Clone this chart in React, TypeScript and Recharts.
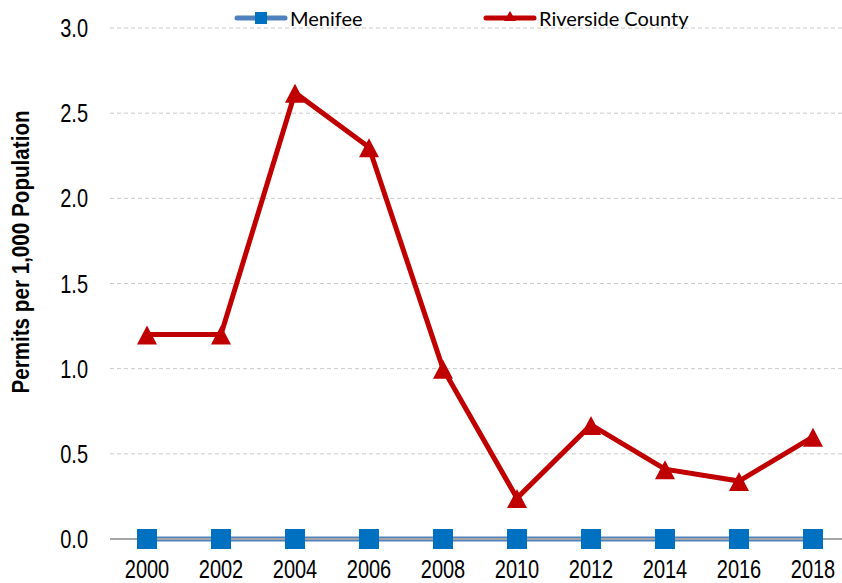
import React from 'react';
import { LineChart, Line, XAxis, YAxis, CartesianGrid } from 'recharts';

const years = ['2000', '2002', '2004', '2006', '2008', '2010', '2012', '2014', '2016', '2018'];
const menifee = [0, 0, 0, 0, 0, 0, 0, 0, 0, 0];
const riverside = [1.2, 1.2, 2.62, 2.3, 1.0, 0.24, 0.67, 0.41, 0.34, 0.6];
const yTicks = [0, 0.5, 1, 1.5, 2, 2.5, 3];

const data = years.map((year, i) => ({ year, menifee: menifee[i], riverside: riverside[i] }));

const BLUE_LINE = '#4f81bd';
const BLUE_MARK = '#0070c0';
const RED = '#c00000';
const FONT = '"Liberation Sans", Arial, sans-serif';

// narrow look: the reference uses a condensed face, so squeeze Liberation Sans
const XTick = (props: any) => {
  const { x, y, payload } = props;
  return (
    <g transform={`translate(${x},${y})`}>
      <text transform="scale(0.8,1)" textAnchor="middle" dy={39} fontFamily={FONT} fontSize={25} fill="#000">
        {payload.value}
      </text>
    </g>
  );
};

const YTick = (props: any) => {
  const { x, y, payload } = props;
  return (
    <g transform={`translate(${x},${y})`}>
      <text transform="scale(0.8,1)" textAnchor="end" dy={9} fontFamily={FONT} fontSize={25} fill="#000">
        {Number(payload.value).toFixed(1)}
      </text>
    </g>
  );
};

const Square = (props: any) => {
  const { cx, cy } = props;
  if (cx == null || cy == null) return null;
  return <rect x={cx - 10} y={cy - 10} width={20} height={20} fill={BLUE_MARK} />;
};

const Triangle = (props: any) => {
  const { cx, cy } = props;
  if (cx == null || cy == null) return null;
  return <polygon points={`${cx},${cy - 9} ${cx + 10},${cy + 10} ${cx - 10},${cy + 10}`} fill={RED} />;
};

const YTitle = () => (
  <g transform="translate(21,252) rotate(-90)">
    <text
      transform="scale(0.86,1)"
      textAnchor="middle"
      dominantBaseline="central"
      fontFamily={FONT}
      fontWeight="bold"
      fontSize={24}
      fill="#000"
    >
      Permits per 1,000 Population
    </text>
  </g>
);

const LegendItem = ({ left, color, markColor, shape, label }: any) => (
  <div style={{ position: 'absolute', left, top: 4, display: 'flex', alignItems: 'center' }}>
    <svg width={54} height={28}>
      <line x1={3} y1={14} x2={51} y2={14} stroke={color} strokeWidth={5} strokeLinecap="round" />
      {shape === 'square' ? (
        <rect x={21} y={8} width={12} height={12} fill={markColor} />
      ) : (
        <polygon points="27,7 33,17 21,17" fill={markColor} />
      )}
    </svg>
    <span style={{ fontFamily: 'Lato, "Open Sans", sans-serif', fontSize: 20, color: '#000', marginLeft: 2 }}>{label}</span>
  </div>
);

export default function App() {
  return (
    <div style={{ position: 'absolute', left: 0, top: 0, width: 842, height: 583, overflow: 'hidden', background: '#fff' }}>
      <LineChart width={852} height={583} data={data} margin={{ top: 28, right: 2, bottom: 0, left: 50 }}>
        <CartesianGrid horizontal vertical={false} stroke="#c8c8c8" strokeDasharray="4 3" />
        <XAxis
          dataKey="year"
          height={44}
          padding={{ left: 37, right: 37 }}
          axisLine={{ stroke: '#a6a6a6', strokeWidth: 2 }}
          tickLine={false}
          tickSize={0}
          tickMargin={0}
          tick={<XTick />}
        />
        <YAxis
          width={60}
          domain={[0, 3]}
          ticks={yTicks}
          axisLine={false}
          tickLine={false}
          tickSize={0}
          tickMargin={22}
          tick={<YTick />}
          label={<YTitle />}
        />
        <Line
          dataKey="menifee"
          name="Menifee"
          stroke={BLUE_LINE}
          strokeWidth={5}
          dot={<Square />}
          activeDot={false}
          isAnimationActive={false}
        />
        <Line
          dataKey="riverside"
          name="Riverside County"
          stroke={RED}
          strokeWidth={5}
          dot={<Triangle />}
          activeDot={false}
          isAnimationActive={false}
        />
      </LineChart>
      <LegendItem left={234} color={BLUE_LINE} markColor={BLUE_MARK} shape="square" label="Menifee" />
      <LegendItem left={483} color={RED} markColor={RED} shape="triangle" label="Riverside County" />
    </div>
  );
}
